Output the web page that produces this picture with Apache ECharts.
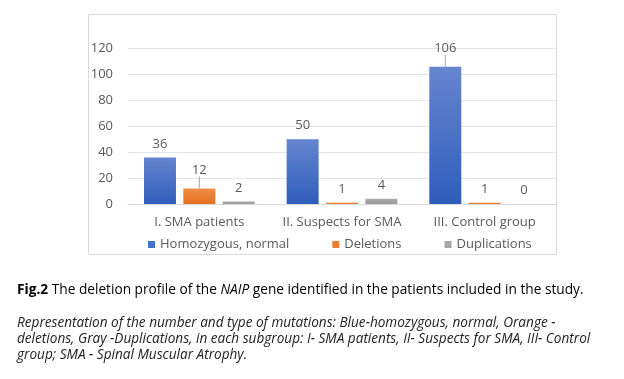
<!DOCTYPE html>
<html><head><meta charset="utf-8">
<script src="https://cdn.jsdelivr.net/npm/echarts@6/dist/echarts.min.js"></script>
<style>html,body{margin:0;padding:0;background:#fff}#c{width:624px;height:379px}</style>
</head><body><div id="c"></div>
<script>
const categories = ['I. SMA patients', 'II. Suspects for SMA', 'III. Control group'];
const seriesNames = ['Homozygous, normal', 'Deletions', 'Duplications'];
const homozygous = [36, 50, 106];
const deletions = [12, 1, 1];
const duplications = [2, 4, 0];
const yTicks = [0, 20, 40, 60, 80, 100, 120];
const captionTitle = 'The deletion profile of the ';
const captionGene = 'NAIP';
const captionRest = ' gene identified in the patients included in the study.';
const captionLines = [
  'Representation of the number and type of mutations: Blue-homozygous, normal, Orange -',
  'deletions, Gray -Duplications, in each subgroup: I- SMA patients, II- Suspects for SMA, III- Control',
  'group; SMA - Spinal Muscular Atrophy.'
];

const FONT = 'Open Sans';
const TXT = '#595959';
function grad(top, bottom) {
  return new echarts.graphic.LinearGradient(0, 0, 0, 1, [{offset: 0, color: top}, {offset: 1, color: bottom}]);
}
const colors = [grad('#6585cf', '#2f5dbb'), grad('#f18d47', '#e56f1f'), grad('#adadad', '#979797')];
const legendColors = ['#4472c4', '#ed7d31', '#a5a5a5'];
const moved = [[2], [0], []];
const values = [homozygous, deletions, duplications];

const chart = echarts.init(document.getElementById('c'), null, {renderer: 'canvas'});
const capFont = 'Open Sans';
chart.setOption({
  animation: false,
  backgroundColor: '#fff',
  textStyle: {fontFamily: FONT},
  grid: {left: 128, right: 68, top: 48.7, bottom: 175},
  legend: {
    left: 143, top: 233, itemWidth: 7, itemHeight: 7, itemGap: 43, icon: 'rect',
    textStyle: {color: TXT, fontSize: 13, fontFamily: FONT},
    data: seriesNames.map((n, i) => ({name: n, itemStyle: {color: legendColors[i]}}))
  },
  xAxis: {
    type: 'category', data: categories,
    axisLine: {show: true, lineStyle: {color: '#d9d9d9'}},
    axisTick: {show: false},
    axisLabel: {color: TXT, fontSize: 13, margin: 12, fontFamily: FONT, interval: 0}
  },
  yAxis: {
    type: 'value', min: yTicks[0], max: yTicks[yTicks.length - 1], interval: 20,
    axisLine: {show: false}, axisTick: {show: false},
    axisLabel: {color: TXT, fontSize: 13, margin: 15, fontFamily: FONT},
    splitLine: {lineStyle: {color: '#e3e6eb'}}
  },
  series: seriesNames.map((n, si) => ({
    name: n, type: 'bar',
    data: values[si].map((v, i) => moved[si].indexOf(i) >= 0 ? {value: v, labelLine: {show: true}} : {value: v, labelLine: {show: false}}),
    barWidth: 32, barGap: '23%',
    itemStyle: {color: colors[si]},
    label: {show: true, position: 'top', distance: 7, color: TXT, fontSize: 13, fontFamily: FONT},
    labelLine: {show: false, lineStyle: {color: '#a6a6a6', width: 1}},
    labelLayout: function (p) { return moved[si].indexOf(p.dataIndex) >= 0 ? {dy: -5} : {}; }
  })),
  graphic: [
    {type: 'rect', shape: {x: 88.5, y: 14.5, width: 468, height: 240}, style: {fill: 'none', stroke: '#d9d9d9', lineWidth: 1}, silent: true, z: -1},
    {type: 'text', left: 17, top: 283, style: {
      text: '{b|Fig.2}{n| ' + captionTitle + '}{i|' + captionGene + '}{n|' + captionRest + '}',
      rich: {
        b: {fontWeight: 'bold', fontSize: 13.7, fontFamily: capFont, fill: '#000'},
        n: {fontSize: 13.7, fontFamily: capFont, fill: '#000'},
        i: {fontStyle: 'italic', fontSize: 13.7, fontFamily: capFont, fill: '#000'}
      }}},
    ...captionLines.map((t, k) => ({type: 'text', left: 17, top: 316 + k * 16, style: {
      text: t, fontStyle: 'italic', fontSize: 13.6, fontFamily: capFont, fill: '#222'}}))
  ]
});
</script></body></html>
